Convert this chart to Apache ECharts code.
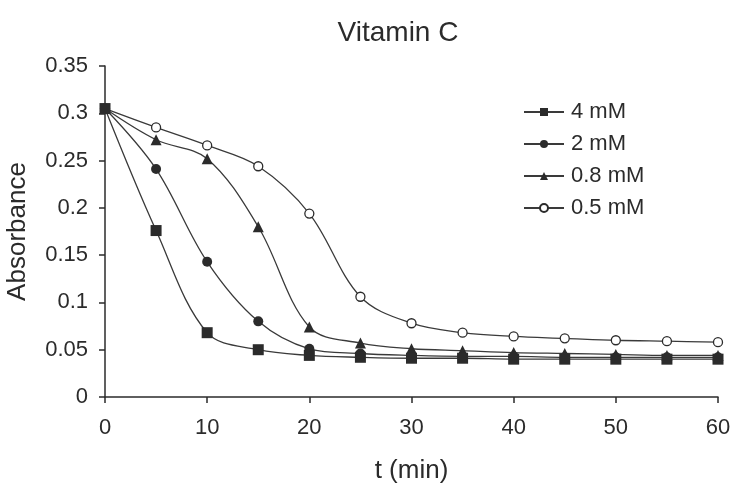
<!DOCTYPE html>
<html>
<head>
<meta charset="utf-8">
<script src="https://cdn.jsdelivr.net/npm/echarts@6/dist/echarts.min.js"></script>
<style>html,body{margin:0;padding:0;background:#fff}#c{width:739px;height:487px}</style>
</head>
<body>
<div id="c"></div>
<script>
const times = [0, 5, 10, 15, 20, 25, 30, 35, 40, 45, 50, 55, 60];
const seriesNames = ['4 mM', '2 mM', '0.8 mM', '0.5 mM'];
const conc4 = [0.305, 0.176, 0.068, 0.050, 0.044, 0.042, 0.041, 0.041, 0.040, 0.040, 0.040, 0.040, 0.040];
const conc2 = [0.305, 0.241, 0.143, 0.080, 0.051, 0.046, 0.044, 0.043, 0.043, 0.042, 0.042, 0.042, 0.042];
const conc08 = [0.305, 0.272, 0.252, 0.180, 0.074, 0.057, 0.051, 0.049, 0.047, 0.046, 0.045, 0.044, 0.044];
const conc05 = [0.305, 0.285, 0.266, 0.244, 0.194, 0.106, 0.078, 0.068, 0.064, 0.062, 0.060, 0.059, 0.058];
const yTicks = ['0', '0.05', '0.1', '0.15', '0.2', '0.25', '0.3', '0.35'];

const FONT = '"Liberation Sans", Arial, sans-serif';
const INK = '#2b2b2b';
function pairs(vals){ return times.map((t,i)=>[t, vals[i]]); }

const defs = [
  {name: seriesNames[0], data: conc4, symbol: 'rect', size: 11, fill: INK, z: 6},
  {name: seriesNames[1], data: conc2, symbol: 'circle', size: 10, fill: INK, z: 5},
  {name: seriesNames[2], data: conc08, symbol: 'triangle', size: 11, fill: INK, z: 4},
  {name: seriesNames[3], data: conc05, symbol: 'circle', size: 9, fill: '#fff', z: 3}
];

const chart = echarts.init(document.getElementById('c'), null, {renderer: 'canvas'});
chart.setOption({
  animation: false,
  backgroundColor: '#fff',
  title: {
    text: 'Vitamin C', left: 393, top: 14, textAlign: 'center',
    textStyle: {fontFamily: FONT, fontSize: 28, fontWeight: 'normal', color: INK}
  },
  legend: {
    orient: 'vertical', left: 518, top: 96, itemWidth: 40, itemHeight: 10, itemGap: 10,
    textStyle: {fontFamily: FONT, fontSize: 22, color: INK, padding: [0,0,0,2]},
    data: seriesNames.map(n=>({name: n}))
  },
  grid: {left: 105, right: 21, top: 66, bottom: 90, containLabel: false, outerBoundsMode: 'none'},
  xAxis: {
    type: 'value', min: 0, max: 60, interval: 10,
    name: 't (min)', nameLocation: 'middle', nameGap: 61,
    nameTextStyle: {fontFamily: FONT, fontSize: 26, color: INK},
    axisLine: {show: true, lineStyle: {color: INK, width: 1.5}},
    axisTick: {show: true, inside: false, length: 6, lineStyle: {color: INK, width: 1.5}},
    axisLabel: {fontFamily: FONT, fontSize: 22, color: INK, margin: 20},
    splitLine: {show: false}
  },
  yAxis: {
    type: 'value', min: 0, max: 0.35, interval: 0.05,
    name: 'Absorbance', nameLocation: 'middle', nameGap: 74, nameRotate: 90,
    nameTextStyle: {fontFamily: FONT, fontSize: 26, color: INK},
    axisLine: {show: true, lineStyle: {color: INK, width: 1.5}},
    axisTick: {show: true, inside: false, length: 6, lineStyle: {color: INK, width: 1.5}},
    axisLabel: {fontFamily: FONT, fontSize: 22, color: INK, margin: 17,
      formatter: function(v){ const i = Math.round(v/0.05); return yTicks[i]; }},
    splitLine: {show: false}
  },
  series: defs.map(d => ({
    type: 'line', name: d.name, data: pairs(d.data), smooth: 0.35,
    symbol: d.symbol, symbolSize: d.size, z: d.z,
    lineStyle: {color: '#3a3a3a', width: 1.3},
    itemStyle: {color: d.fill, borderColor: INK, borderWidth: d.fill === '#fff' ? 1.3 : 0},
    emphasis: {disabled: true}
  }))
});
</script>
</body>
</html>
